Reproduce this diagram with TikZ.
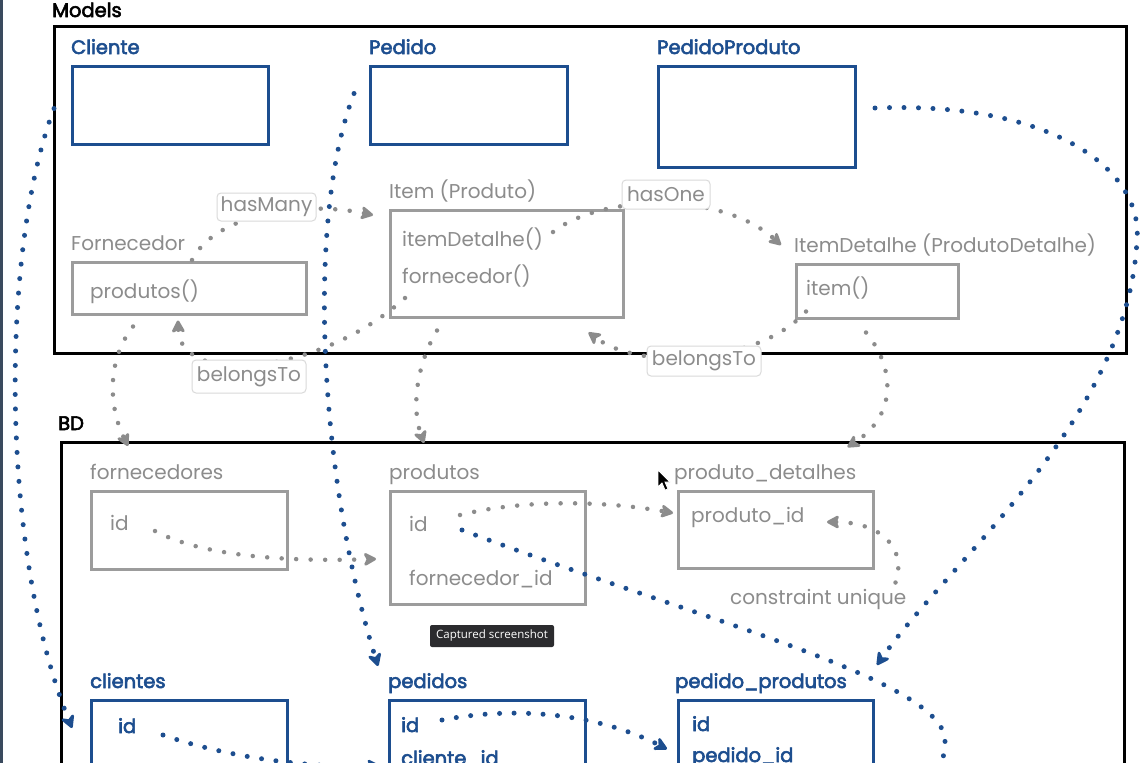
\documentclass[tikz,border=0pt]{standalone}
\usepackage{fontspec}
\setmainfont{Poppins}
\newfontfamily\semibold{Poppins}[FakeBold=3]
\newfontfamily\uifont{Open Sans}
\usetikzlibrary{arrows.meta,calc}
\definecolor{ink}{HTML}{1D4E8F}
\definecolor{ash}{HTML}{8C8C8C}
\definecolor{ashline}{HTML}{9C9C9C}
\definecolor{tagline}{HTML}{DADADA}
\definecolor{tipbg}{HTML}{2B2B2E}
\definecolor{edge}{HTML}{3A4A5E}
\begin{document}
\begin{tikzpicture}[x=1pt,y=-1pt,
  txt/.style={anchor=base west,inner sep=0pt,font=\fontsize{20}{22}\selectfont},
  head/.style={txt,text=black,font=\semibold\fontsize{19.5}{22}\selectfont},
  bluetitle/.style={txt,text=ink,font=\semibold\fontsize{19.5}{22}\selectfont},
  greytitle/.style={txt,text=ash},
  frame/.style={draw=black,line width=2.5pt,anchor=north west,inner sep=0pt},
  bluebox/.style={draw=ink,line width=3pt,anchor=north west,inner sep=0pt},
  greybox/.style={draw=ashline,line width=2.5pt,anchor=north west,inner sep=0pt},
  tag/.style={draw=tagline,fill=white,rounded corners=4pt,line width=1pt,text=ash,
    font=\fontsize{20}{22}\selectfont,inner sep=0pt},
  greydots/.style={draw=ash,line width=4.5pt,line cap=round,dash pattern=on 0pt off 14.5pt,
    -{Stealth[length=15pt,width=16pt,inset=4pt,round]}},
  bluedots/.style={draw=ink,line width=5pt,line cap=round,dash pattern=on 0pt off 14.5pt,
    -{Stealth[length=16pt,width=17pt,inset=5pt,round]}}
]
\useasboundingbox (0,0) rectangle (1146,763);
\clip (0,0) rectangle (1146,763);
\fill[white] (0,0) rectangle (1146,763);
\fill[edge] (0,0) rectangle (2.5,763);

% section frames
\node[frame,minimum width=1072pt,minimum height=327pt] (models) at (53,25) {};
\node[frame,minimum width=1063pt,minimum height=400pt] (bd) at (60,441) {};
\node[head] (modelsLbl) at (52,17) {Models};
\node[head] (bdLbl) at (58,430) {BD};

% model classes
\node[bluetitle] (cliT) at (71,54) {Cliente};
\node[bluebox,minimum width=196pt,minimum height=78pt] (cliBox) at (71,65) {};
\node[bluetitle] (pedT) at (369,54) {Pedido};
\node[bluebox,minimum width=197pt,minimum height=78pt] (pedBox) at (369,65) {};
\node[bluetitle] (ppT) at (657,54) {PedidoProduto};
\node[bluebox,minimum width=197pt,minimum height=101pt] (ppBox) at (657,65) {};

\node[greytitle] (fornT) at (71,250) {Fornecedor};
\node[greybox,minimum width=234pt,minimum height=52pt] (fornBox) at (71,261) {};
\node[greytitle] (fornM) at (90,298) {produtos()};
\node[greytitle] (itemT) at (389,198) {Item (Produto)};
\node[greybox,minimum width=233pt,minimum height=107pt] (itemBox) at (389,209) {};
\node[greytitle] (itemM1) at (402,246) {itemDetalhe()};
\node[greytitle] (itemM2) at (402,283) {fornecedor()};
\node[greytitle] (idetT) at (794,252) {ItemDetalhe (ProdutoDetalhe)};
\node[greybox,minimum width=162pt,minimum height=54pt] (idetBox) at (795,263) {};
\node[greytitle] (idetM) at (806,295) {item()};

% database tables
\node[greytitle] (fornsT) at (90,479) {fornecedores};
\node[greybox,minimum width=196pt,minimum height=78pt] (fornsBox) at (90,490) {};
\node[greytitle] (fornsF) at (110,530) {id};
\node[greytitle] (prodsT) at (389,479) {produtos};
\node[greybox,minimum width=195pt,minimum height=113pt] (prodsBox) at (389,490) {};
\node[greytitle] (prodsF1) at (409,531) {id};
\node[greytitle] (prodsF2) at (409,585) {fornecedor\_id};
\node[greytitle] (pdetT) at (674,479) {produto\_detalhes};
\node[greybox,minimum width=195pt,minimum height=77pt] (pdetBox) at (677,490) {};
\node[greytitle] (pdetF) at (691,522) {produto\_id};
\node[greytitle] (uniq) at (730,604) {constraint unique};

\node[bluetitle] (clisT) at (90,688) {clientes};
\node[bluebox,minimum width=196pt,minimum height=100pt] (clisBox) at (90,699) {};
\node[bluetitle] (clisF) at (118,733) {id};
\node[bluetitle] (pedsT) at (388,688) {pedidos};
\node[bluebox,minimum width=196pt,minimum height=100pt] (pedsBox) at (388,699) {};
\node[bluetitle] (pedsF1) at (401,732) {id};
\node[bluetitle] (pedsF2) at (401,765) {cliente\_id};
\node[bluetitle] (ppsT) at (675,688) {pedido\_produtos};
\node[bluebox,minimum width=195pt,minimum height=100pt] (ppsBox) at (677,699) {};
\node[bluetitle] (ppsF1) at (692,731) {id};
\node[bluetitle] (ppsF2) at (692,762) {pedido\_id};

% model relations
\draw[greydots] ($(fornBox.north west)+(121,-1)$) .. controls +(23,-45) and +(-73,-15) .. ($(itemBox.north west)+(-16,6)$);
\draw[greydots] ($(itemBox.north west)+(164,23)$) .. controls +(47,-37) and +(-61,-55) .. ($(idetBox.north west)+(-14,-18)$);
\draw[greydots] ($(itemBox.north west)+(16,89)$) .. controls +(-85,77) and +(2,67) .. ($(fornBox.south west)+(107,5)$);
\draw[greydots] ($(idetBox.south west)+(11,-8)$) .. controls +(-46,51) and +(54,40) .. ($(itemBox.south east)+(-36,14)$);

% model to table mapping
\draw[greydots] ($(fornBox.south west)+(62,11)$) .. controls +(-28,36) and +(-18,-36) .. ($(fornsBox.north west)+(38,-44)$);
\draw[greydots] ($(itemBox.south west)+(48,12)$) .. controls +(-22,37) and +(-12,-33) .. ($(prodsBox.north west)+(35,-47)$);
\draw[greydots] ($(idetBox.south west)+(71,13)$) .. controls +(29,35) and +(50,-32) .. ($(pdetBox.north east)+(-27,-43)$);

% foreign keys
\draw[greydots] ($(fornsBox.north west)+(65,41)$) .. controls +(45,24) and +(-96,3) .. ($(prodsBox.north west)+(-13,69)$);
\draw[greydots] ($(prodsBox.north west)+(71,25)$) .. controls +(60,-15) and +(-73,-13) .. ($(pdetBox.north west)+(-4,23)$);
\draw[greydots] ($(pdetBox.south east)+(21,13)$) .. controls +(12,-35) and +(53,0) .. ($(pdetBox.north west)+(150,32)$);

% blue mappings
\draw[bluedots] ($(cliBox.west)+(-17,3)$) .. controls +(-54,143) and +(-72,-178) .. ($(clisBox.north west)+(-18,29)$);
\draw[bluedots] ($(pedBox.west)+(-15,-12)$) .. controls +(-49,128) and +(-58,-186) .. ($(pedsBox.north west)+(-10,-33)$);
\coordinate (ppBend) at ($(ppBox.north east)+(280,175)$);
\draw[bluedots] ($(ppBox.east)+(18,-9)$) .. controls +(178,-7) and +(6,-70) .. (ppBend)
  .. controls +(-9,180) and +(73,-105) .. ($(ppsBox.north west)+(200,-34)$);
\coordinate (prodsLoop) at ($(ppsBox.north east)+(70,41)$);
\coordinate (ppsBelow) at ($(ppsBox.north east)+(28,101)$);
\draw[bluedots,-] ($(prodsBox.north west)+(73,40)$) .. controls +(238,90) and +(-2,-60) .. (prodsLoop)
  .. controls +(1,25) and +(30,-20) .. (ppsBelow);
\draw[bluedots] ($(clisBox.north west)+(73,36)$) .. controls +(57,20) and +(-80,2) .. ($(pedsBox.north west)+(-8,67)$);
\draw[bluedots] ($(pedsBox.north west)+(54,21)$) .. controls +(78,-15) and +(-67,-34) .. ($(ppsBox.north west)+(-10,50)$);

% relation tags
\node[tag,minimum width=99pt,minimum height=28pt] (hasMany) at (266.5,207) {hasMany};
\node[tag,minimum width=88pt,minimum height=29pt] (hasOne) at (666,194.5) {hasOne};
\node[tag,minimum width=114pt,minimum height=33pt] (belL) at (249,376.5) {belongsTo};
\node[tag,minimum width=114pt,minimum height=30pt] (belR) at (704,361) {belongsTo};

% pointer and tooltip
\node[fill=tipbg,rounded corners=2pt,text=white,font=\uifont\fontsize{11.5}{13}\selectfont,
  minimum width=124pt,minimum height=22pt,inner sep=0pt] (tip) at (492,636) {Captured screenshot};
\filldraw[fill=black,draw=white,line width=0.8pt] (658,470) -- (658,487) -- (662,483) -- (665,490)
  -- (668,489) -- (665,482) -- (670,482) -- cycle;
\end{tikzpicture}
\end{document}
